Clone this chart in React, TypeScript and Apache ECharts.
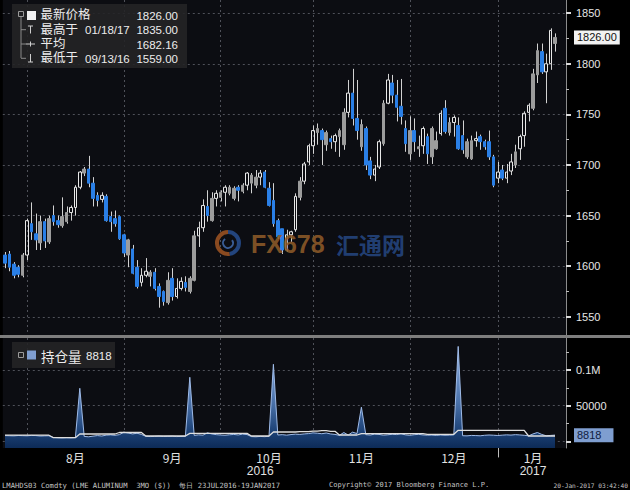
import React, { useEffect, useRef } from 'react';
import * as echarts from 'echarts';

// ---------- calendar ----------
const startDate = '2016-07-25';
const endDate = '2017-01-19';
const holidays = ['2016-08-29', '2016-12-26', '2016-12-27'];
const padCategories = ['pad1', 'pad2'];

// ---------- price candles [open, close, low, high] by month ----------
const ohlcJul = [
  [1611, 1603, 1598, 1614], [1612, 1599, 1595, 1615], [1602, 1591, 1588, 1604], [1599, 1592, 1589, 1601],
  [1591, 1611, 1589, 1613],
];
const ohlcAug = [
  [1611, 1645, 1606, 1647], [1642, 1634, 1626, 1663], [1632, 1626, 1616, 1652], [1623, 1644, 1616, 1650],
  [1644, 1625, 1618, 1647], [1624, 1647, 1622, 1650], [1650, 1644, 1640, 1660], [1645, 1641, 1638, 1650],
  [1640, 1649, 1638, 1668], [1644, 1653, 1642, 1659], [1653, 1658, 1645, 1660], [1658, 1678, 1650, 1680],
  [1678, 1693, 1676, 1694], [1692, 1696, 1689, 1698], [1696, 1682, 1678, 1709], [1682, 1667, 1659, 1688],
  [1670, 1665, 1659, 1673], [1666, 1670, 1663, 1673], [1669, 1645, 1644, 1671], [1649, 1644, 1634, 1654],
  [1647, 1642, 1639, 1655], [1649, 1627, 1626, 1650],
];
const ohlcSep = [
  [1631, 1613, 1609, 1632], [1611, 1626, 1599, 1627], [1617, 1593, 1592, 1621], [1599, 1580, 1578, 1606],
  [1584, 1591, 1580, 1598], [1591, 1595, 1589, 1608], [1590, 1594, 1580, 1596], [1594, 1578, 1576, 1598],
  [1580, 1570, 1559, 1583], [1575, 1565, 1561, 1576], [1564, 1586, 1562, 1594], [1588, 1570, 1566, 1598],
  [1570, 1578, 1568, 1588], [1578, 1585, 1576, 1589], [1584, 1579, 1575, 1590], [1575, 1588, 1573, 1590],
  [1586, 1630, 1585, 1635], [1630, 1638, 1619, 1644], [1638, 1660, 1634, 1666], [1659, 1650, 1644, 1675],
  [1645, 1667, 1644, 1673], [1667, 1672, 1659, 1675],
];
const ohlcOct = [
  [1668, 1673, 1664, 1675], [1673, 1678, 1659, 1680], [1672, 1678, 1670, 1680], [1667, 1677, 1665, 1679],
  [1678, 1675, 1664, 1680], [1674, 1680, 1672, 1682], [1680, 1692, 1675, 1693], [1682, 1690, 1672, 1692],
  [1680, 1688, 1677, 1695], [1688, 1692, 1680, 1695], [1693, 1678, 1677, 1695], [1677, 1660, 1659, 1683],
  [1665, 1642, 1639, 1682], [1645, 1629, 1627, 1647], [1637, 1616, 1612, 1637], [1616, 1631, 1614, 1636],
  [1631, 1634, 1624, 1635], [1636, 1669, 1634, 1672], [1668, 1684, 1665, 1688], [1684, 1701, 1681, 1703],
  [1703, 1719, 1700, 1721],
];
const ohlcNov = [
  [1719, 1734, 1711, 1739], [1732, 1736, 1720, 1741], [1734, 1725, 1700, 1736], [1720, 1732, 1714, 1734],
  [1726, 1723, 1716, 1729], [1723, 1729, 1713, 1731], [1728, 1734, 1708, 1736], [1720, 1752, 1715, 1756],
  [1752, 1771, 1747, 1784], [1771, 1746, 1739, 1795], [1746, 1734, 1725, 1784], [1718, 1740, 1714, 1745],
  [1736, 1700, 1695, 1738], [1704, 1690, 1686, 1708], [1690, 1696, 1684, 1700], [1698, 1723, 1696, 1725],
  [1721, 1761, 1719, 1764], [1761, 1784, 1760, 1790], [1781, 1769, 1761, 1789], [1769, 1757, 1743, 1784],
  [1758, 1748, 1740, 1785], [1736, 1721, 1713, 1744],
];
const ohlcDec = [
  [1711, 1734, 1705, 1748], [1734, 1723, 1713, 1746], [1716, 1718, 1708, 1729], [1719, 1736, 1711, 1738],
  [1728, 1711, 1701, 1731], [1708, 1736, 1701, 1738], [1716, 1724, 1715, 1733], [1731, 1751, 1729, 1754],
  [1756, 1733, 1731, 1764], [1732, 1742, 1729, 1747], [1742, 1747, 1728, 1749], [1739, 1716, 1715, 1747],
  [1729, 1715, 1711, 1744], [1708, 1723, 1706, 1726], [1706, 1724, 1705, 1729], [1724, 1726, 1718, 1733],
  [1728, 1723, 1715, 1730], [1723, 1718, 1715, 1725], [1723, 1708, 1705, 1734], [1708, 1680, 1678, 1710],
];
const ohlcJan = [
  [1687, 1693, 1682, 1703], [1695, 1687, 1685, 1700], [1687, 1693, 1682, 1701], [1694, 1703, 1690, 1711],
  [1700, 1713, 1697, 1720], [1716, 1728, 1705, 1730], [1729, 1751, 1718, 1753], [1752, 1759, 1743, 1761],
  [1756, 1790, 1754, 1795], [1789, 1813, 1781, 1820], [1812, 1792, 1790, 1820], [1792, 1800, 1761, 1810],
  [1800, 1833, 1794, 1835], [1820, 1826, 1812, 1830],
];

// ---------- open interest (blue area) and white line ----------
const openInterest = [
  8200, 8000, 7800, 8300, 8100, 7900, 8400, 8200, 7600, 7800, 8000,
  5600, 5200, 5000, 5300, 5100, 5400,
  74400,
  7000, 6500, 7400, 8200, 7600, 8800, 9200, 8600,
  9500, 13000, 11800, 10500, 11500, 9800,
  7200, 6800, 7000, 7400, 6900, 7100, 7300, 6800, 7000, 7200,
  89800,
  8500, 9200, 8800, 12000, 10500, 9500, 9000, 8700, 9300, 9800, 9100, 10200, 9600,
  6800, 6500, 7000, 6700, 7200,
  108000,
  9000, 9500, 8800, 9600, 10200, 9800, 10500, 11000, 12000, 11500, 10800, 11800, 10500, 9800,
  8500, 12500, 9000, 13000, 11000,
  48000,
  9500, 9000, 10200, 9800, 8800, 9300, 10000, 9600, 10800, 9200, 8600, 9400, 9900, 9100, 8700, 8900, 8400, 9000, 8600, 8800, 9200,
  133000,
  8000, 7800, 8400, 8200, 7900, 8600, 9000, 8700, 8300, 8800, 9200, 8900, 9500, 9100, 8600,
  7800, 10500, 12500, 9800, 7900, 8400, 8818,
];
const whiteLine = [
  8800, 8800, 8900, 8900, 8900, 8800, 8800, 8800, 8800, 8700, 8700,
  5200, 5200, 5200, 5200, 5200, 5200,
  10400, 10400, 10400, 10400, 10400, 10400, 10400, 10400, 10400,
  12500, 12500, 12500, 12500, 12500, 12500,
  7600, 7600, 7600, 7600, 7600, 7600, 7600, 7600, 7600, 7600,
  11300, 11300, 11300, 11300, 11300, 11300, 11300, 11300, 11300, 11300, 11300, 11300, 11300, 11300,
  7600, 7600, 7600, 7600, 7600,
  13200, 13200, 13200, 13200, 13200, 13200, 13800, 13800, 13800, 14500, 14500, 15000, 15000, 14200, 14200,
  9000, 9000, 9000, 9000, 9000,
  11000, 11000, 11000, 11000, 11000, 11000, 11000, 11000, 11000, 11000, 11000, 11000, 11000, 11000, 11000,
  10000, 10000, 10000, 10000, 10000, 10000, 10000,
  15500, 15500, 15500, 15500, 15500, 15500, 15500, 15500, 15500, 15500, 15500, 15500, 15500, 15500, 15500, 15500,
  7600, 7600, 7600, 7600, 7600, 7600, 7600,
];

// ---------- labels / ticks ----------
const monthLabels = ['8月', '9月', '10月', '11月', '12月', '1月'];
const yearLabels = ['2016', '2017'];
const priceTicks = [1550, 1600, 1650, 1700, 1750, 1800, 1850];
const priceMinorTicks = [1575, 1625, 1675, 1725, 1775, 1825];
const oiTicks = [0, 50000, 100000];
const oiLabelTicks = [50000, 100000];
const oiMinorTicks = [25000, 75000, 125000];
const legendRows = [
  { name: '最新价格', date: '', value: '1826.00' },
  { name: '最高于', date: '01/18/17', value: '1835.00' },
  { name: '平均', date: '', value: '1682.16' },
  { name: '最低于', date: '09/13/16', value: '1559.00' },
];
const oiLegend = { name: '持仓量', value: '8818' };
const footerLeft = 'LMAHDS03 Comdty (LME ALUMINUM  3MO ($))  每日 23JUL2016-19JAN2017';
const footerMid = 'Copyright© 2017 Bloomberg Finance L.P.';
const footerRight = '20-Jan-2017 03:42:40';
const watermark = { brand: 'FX678', cn: '汇通网' };

// ---------- derived ----------
function buildTradingDays(): string[] {
  const out: string[] = [];
  const d = new Date(startDate + 'T00:00:00Z');
  const end = new Date(endDate + 'T00:00:00Z');
  while (d.getTime() <= end.getTime()) {
    const wd = d.getUTCDay();
    const s = d.toISOString().slice(0, 10);
    if (wd !== 0 && wd !== 6 && holidays.indexOf(s) < 0) out.push(s);
    d.setUTCDate(d.getUTCDate() + 1);
  }
  return out;
}
const days = buildTradingDays();
const categories = days.concat(padCategories);
const ohlc = [...ohlcJul, ...ohlcAug, ...ohlcSep, ...ohlcOct, ...ohlcNov, ...ohlcDec, ...ohlcJan];

const monthStarts: number[] = [];
for (let i = 1; i < days.length; i++) {
  if (days[i].slice(0, 7) !== days[i - 1].slice(0, 7)) monthStarts.push(i);
}
const monthLabelAt = new Map<number, string>();
monthStarts.forEach((s, k) => {
  const e = k + 1 < monthStarts.length ? monthStarts[k + 1] - 1 : categories.length - 1;
  monthLabelAt.set(Math.ceil((s + e) / 2 + 0.5), monthLabels[k]);
});
const yearStart = days.findIndex((d) => d.startsWith('2017'));
const yearLabelAt = new Map<number, string>();
{
  const lastStart = monthStarts[monthStarts.length - 1];
  yearLabelAt.set(Math.round((monthStarts[0] + yearStart - 1) / 2), yearLabels[0]);
  yearLabelAt.set(Math.ceil((lastStart + categories.length - 1) / 2 + 0.5), yearLabels[1]);
}

const WHITE = '#e8e8e8';
const GREY = '#9c9c9c';
const BLUE = '#2a7fe6';
const WICK = '#d2d2d2';

function kind(i: number): 'down' | 'grey' | 'up' {
  const [o, c] = ohlc[i];
  if (c < o) return 'down';
  const prev = i > 0 ? ohlc[i - 1][1] : o;
  return o < prev ? 'grey' : 'up';
}

const bodyData = ohlc.map((r, i) => {
  const [o, c] = r;
  const k = kind(i);
  const itemStyle =
    k === 'down'
      ? { color0: BLUE, borderColor0: BLUE }
      : k === 'grey'
      ? { color: GREY, borderColor: GREY }
      : { color: 'rgba(0,0,0,0)', borderColor: WHITE };
  return { value: [o, c, Math.min(o, c), Math.max(o, c)], itemStyle };
});
const wickData = ohlc.map((r, i) => [i, r[0], r[1], r[2], r[3]]);
const lastClose = ohlc[ohlc.length - 1][1];
const lastOI = openInterest[openInterest.length - 1];

const FONT = "'Liberation Sans', Arial, sans-serif";
const CJK = "'Noto Sans CJK SC', 'Liberation Sans', sans-serif";
const LEG = "'Liberation Sans', 'Noto Sans CJK SC', sans-serif";
const MONO = "'DejaVu Sans Mono', monospace";
const GRID_LINE = { color: '#4f5159', type: [2, 3] as number[], width: 1 };

function buildGraphic() {
  const els: any[] = [];
  // separator
  els.push({ type: 'rect', shape: { x: 0, y: 335, width: 630, height: 3 }, style: { fill: '#7e7e7e' }, z: 50 });
  // watermark
  els.push({ type: 'arc', shape: { cx: 228, cy: 243, r: 11, startAngle: Math.PI * 0.45, endAngle: Math.PI * 1.5 }, style: { stroke: '#8a4a20', lineWidth: 4, fill: null }, z: 4 });
  els.push({ type: 'arc', shape: { cx: 228, cy: 243, r: 11, startAngle: -Math.PI * 0.5, endAngle: Math.PI * 0.45 }, style: { stroke: '#23457e', lineWidth: 4, fill: null }, z: 4 });
  els.push({ type: 'arc', shape: { cx: 228, cy: 243, r: 5, startAngle: -Math.PI * 0.2, endAngle: Math.PI * 1.3 }, style: { stroke: '#3a5d96', lineWidth: 2, fill: null }, z: 4 });
  els.push({ type: 'text', x: 251, y: 244, style: { text: watermark.brand, fill: '#8c5a28', font: "bold 25px 'Liberation Sans', sans-serif", textVerticalAlign: 'middle', opacity: 0.9 }, z: 4 });
  els.push({ type: 'text', x: 336, y: 244, style: { text: watermark.cn, fill: '#24457f', font: "bold 23px 'Noto Sans CJK SC', sans-serif", textVerticalAlign: 'middle', opacity: 0.9 }, z: 4 });

  // main legend box
  els.push({ type: 'rect', shape: { x: 12, y: 4, width: 175, height: 64 }, style: { fill: 'rgba(36,36,38,0.9)' }, z: 60 });
  els.push({ type: 'rect', shape: { x: 18.5, y: 11.5, width: 5, height: 5 }, style: { fill: 'none', stroke: '#9a9a9a', lineWidth: 1 }, z: 61 });
  els.push({ type: 'line', shape: { x1: 21, y1: 17, x2: 21, y2: 58 }, style: { stroke: '#8a8a8a', lineWidth: 1 }, z: 61 });
  const rowY = [15.4, 29.7, 44, 58.3];
  [1, 2, 3].forEach((r) => {
    els.push({ type: 'line', shape: { x1: 21, y1: rowY[r], x2: 26, y2: rowY[r] }, style: { stroke: '#8a8a8a', lineWidth: 1 }, z: 61 });
  });
  els.push({ type: 'rect', shape: { x: 27, y: 11, width: 9, height: 9 }, style: { fill: '#f2f2f2' }, z: 61 });
  // high icon (T)
  els.push({ type: 'line', shape: { x1: 28, y1: 26, x2: 33, y2: 26 }, style: { stroke: '#cfcfcf', lineWidth: 1 }, z: 61 });
  els.push({ type: 'line', shape: { x1: 30.5, y1: 26, x2: 30.5, y2: 33.5 }, style: { stroke: '#cfcfcf', lineWidth: 1 }, z: 61 });
  // average icon (-+-)
  els.push({ type: 'line', shape: { x1: 26, y1: 44, x2: 35, y2: 44 }, style: { stroke: '#cfcfcf', lineWidth: 1 }, z: 61 });
  els.push({ type: 'line', shape: { x1: 30.5, y1: 41.5, x2: 30.5, y2: 46.5 }, style: { stroke: '#cfcfcf', lineWidth: 1 }, z: 61 });
  // low icon (⊥)
  els.push({ type: 'line', shape: { x1: 30.5, y1: 54, x2: 30.5, y2: 62 }, style: { stroke: '#cfcfcf', lineWidth: 1 }, z: 61 });
  els.push({ type: 'line', shape: { x1: 28, y1: 62, x2: 33, y2: 62 }, style: { stroke: '#cfcfcf', lineWidth: 1 }, z: 61 });
  legendRows.forEach((row, r) => {
    els.push({ type: 'text', x: 40.5, y: rowY[r], style: { text: row.name, fill: '#ececec', font: `12.5px ${LEG}`, lineHeight: 12, textVerticalAlign: 'middle' }, z: 62 });
    if (row.date) {
      els.push({ type: 'text', x: 85, y: rowY[r] + 0.5, style: { text: row.date, fill: '#ececec', font: `11.5px ${FONT}`, lineHeight: 12, textVerticalAlign: 'middle' }, z: 62 });
    }
    els.push({ type: 'text', x: 178, y: rowY[r] + 0.5, style: { text: row.value, fill: '#ececec', font: `11.5px ${FONT}`, lineHeight: 12, textAlign: 'right', textVerticalAlign: 'middle' }, z: 62 });
  });

  // open interest legend
  els.push({ type: 'rect', shape: { x: 12, y: 342, width: 103, height: 26 }, style: { fill: 'rgba(36,36,38,0.9)' }, z: 60 });
  els.push({ type: 'rect', shape: { x: 18.5, y: 352.5, width: 5, height: 5 }, style: { fill: 'none', stroke: '#9a9a9a', lineWidth: 1 }, z: 61 });
  els.push({ type: 'rect', shape: { x: 27, y: 350.5, width: 9, height: 9 }, style: { fill: '#7f9ed0' }, z: 61 });
  els.push({ type: 'text', x: 41, y: 355.5, style: { text: oiLegend.name, fill: '#ececec', font: `13.5px ${CJK}`, lineHeight: 14, textVerticalAlign: 'middle' }, z: 62 });
  els.push({ type: 'text', x: 86, y: 356, style: { text: oiLegend.value, fill: '#ececec', font: `11.5px ${FONT}`, lineHeight: 12, textVerticalAlign: 'middle' }, z: 62 });

  // footer
  els.push({ type: 'text', x: 2, y: 485, style: { text: footerLeft, fill: '#c4c4c4', font: `7.2px ${MONO}`, textVerticalAlign: 'middle' }, z: 62 });
  els.push({ type: 'text', x: 329, y: 485, style: { text: footerMid, fill: '#c4c4c4', font: `7px ${MONO}`, textVerticalAlign: 'middle' }, z: 62 });
  els.push({ type: 'text', x: 628, y: 485, style: { text: footerRight, fill: '#c4c4c4', font: `6.2px ${MONO}`, textAlign: 'right', textVerticalAlign: 'middle' }, z: 62 });
  return els;
}

function buildOption(): any {
  const isMonthStart = (i: number) => monthStarts.indexOf(i) >= 0;
  const gridLeft = 2.8;
  const plotW = 4.4 * categories.length;
  return {
    animation: false,
    backgroundColor: '#000',
    grid: [
      { left: gridLeft, top: 0, width: plotW, height: 335, show: true, backgroundColor: '#0c0d12', borderWidth: 0 },
      { left: gridLeft, top: 338, width: plotW, height: 110, show: true, backgroundColor: '#0c0d12', borderWidth: 0 },
    ],
    xAxis: [
      {
        type: 'category', gridIndex: 0, data: categories, boundaryGap: true,
        axisLine: { show: false }, axisTick: { show: false }, axisLabel: { show: false },
        splitLine: { show: true, interval: (i: number) => isMonthStart(i), alignWithLabel: true, lineStyle: GRID_LINE },
      },
      {
        type: 'category', gridIndex: 1, data: categories, boundaryGap: true,
        axisLine: { show: false },
        axisTick: { show: true, interval: (i: number) => isMonthStart(i), alignWithLabel: true, length: 4, lineStyle: { color: '#9a9a9a' } },
        axisLabel: {
          show: true, interval: (i: number) => monthLabelAt.has(i),
          formatter: (_v: string, i: number) => monthLabelAt.get(i) || '',
          color: '#e2e2e2', fontSize: 12, fontFamily: CJK, margin: 3,
        },
        splitLine: { show: true, interval: (i: number) => isMonthStart(i), alignWithLabel: true, lineStyle: GRID_LINE },
      },
      {
        type: 'category', gridIndex: 1, data: categories, boundaryGap: true, position: 'bottom', offset: 15,
        axisLine: { show: false },
        axisTick: { show: true, interval: (i: number) => i === yearStart, alignWithLabel: true, length: 16, lineStyle: { color: '#bdbdbd' } },
        axisLabel: {
          show: true, interval: (i: number) => yearLabelAt.has(i),
          formatter: (_v: string, i: number) => yearLabelAt.get(i) || '',
          color: '#e2e2e2', fontSize: 12, fontFamily: FONT, margin: 2,
        },
        splitLine: { show: false },
      },
    ],
    yAxis: [
      {
        type: 'value', gridIndex: 0, position: 'right', min: 1532, max: 1863,
        axisLine: { show: true, lineStyle: { color: '#8c8c8c' } },
        axisTick: { show: true, customValues: priceTicks, length: 5, lineStyle: { color: '#dcdcdc', width: 2 } },
        axisLabel: { customValues: priceTicks, color: '#e6e6e6', fontSize: 11, fontFamily: FONT, margin: 10, formatter: (v: number) => String(v) },
        splitLine: { show: true, lineStyle: GRID_LINE },
      },
      {
        type: 'value', gridIndex: 0, position: 'right', min: 1532, max: 1863,
        axisLine: { show: false },
        axisTick: { show: true, customValues: priceMinorTicks, length: 3, lineStyle: { color: '#bdbdbd' } },
        axisLabel: { show: false }, splitLine: { show: false },
      },
      {
        type: 'value', gridIndex: 1, position: 'right', min: -9200, max: 144800,
        axisLine: { show: true, lineStyle: { color: '#8c8c8c' } },
        axisTick: { show: true, customValues: oiTicks, length: 5, lineStyle: { color: '#dcdcdc', width: 2 } },
        axisLabel: {
          customValues: oiLabelTicks, color: '#e6e6e6', fontSize: 11, fontFamily: FONT, margin: 10,
          formatter: (v: number) => (v >= 100000 ? `${v / 1000000}M` : String(v)),
        },
        splitLine: { show: true, lineStyle: GRID_LINE },
      },
      {
        type: 'value', gridIndex: 1, position: 'right', min: -9200, max: 144800,
        axisLine: { show: false },
        axisTick: { show: true, customValues: oiMinorTicks, length: 3, lineStyle: { color: '#bdbdbd' } },
        axisLabel: { show: false }, splitLine: { show: false },
      },
    ],
    series: [
      {
        type: 'custom', name: 'wick', xAxisIndex: 0, yAxisIndex: 0, data: wickData, silent: true, z: 2,
        encode: { x: 0, y: [1, 2, 3, 4] },
        renderItem: (_p: any, api: any) => {
          const i = api.value(0);
          const o = api.value(1), c = api.value(2), l = api.value(3), h = api.value(4);
          const top = Math.max(o, c), bot = Math.min(o, c);
          const pH = api.coord([i, h]);
          const pT = api.coord([i, top]);
          const pB = api.coord([i, bot]);
          const pL = api.coord([i, l]);
          const x = Math.round(pH[0]) + 0.5;
          return {
            type: 'group',
            children: [
              { type: 'line', shape: { x1: x, y1: pH[1], x2: x, y2: pT[1] }, style: { stroke: WICK, lineWidth: 1 } },
              { type: 'line', shape: { x1: x, y1: pB[1], x2: x, y2: pL[1] }, style: { stroke: WICK, lineWidth: 1 } },
            ],
          };
        },
      },
      {
        type: 'candlestick', name: '最新价格', xAxisIndex: 0, yAxisIndex: 0, data: bodyData, barWidth: 3, z: 3,
        itemStyle: { color: 'rgba(0,0,0,0)', color0: BLUE, borderColor: WHITE, borderColor0: BLUE, borderWidth: 1 },
        markLine: {
          silent: true, symbol: ['none', 'none'],
          lineStyle: { color: 'rgba(0,0,0,0)', width: 0 },
          label: {
            show: true, position: 'end', distance: 8, formatter: () => lastClose.toFixed(2),
            backgroundColor: '#f2f2f2', color: '#111', fontSize: 11, fontFamily: FONT, padding: [2, 3, 1, 3],
          },
          data: [{ yAxis: lastClose }],
        },
      },
      {
        type: 'line', name: '持仓量', xAxisIndex: 1, yAxisIndex: 2, data: openInterest, showSymbol: false, z: 2,
        lineStyle: { color: '#9fbbe8', width: 1 },
        areaStyle: {
          origin: 'start', opacity: 1,
          color: new echarts.graphic.LinearGradient(0, 0, 0, 1, [
            { offset: 0, color: '#8fb0e2' },
            { offset: 0.55, color: '#4b72aa' },
            { offset: 0.84, color: '#1c4176' },
            { offset: 1, color: '#0d2b57' },
          ]),
        },
        markLine: {
          silent: true, symbol: ['none', 'none'],
          lineStyle: { color: 'rgba(0,0,0,0)', width: 0 },
          label: {
            show: true, position: 'end', distance: 8, formatter: () => String(lastOI),
            backgroundColor: '#7f9ed0', color: '#0f2040', fontSize: 11, fontFamily: FONT, padding: [2, 12, 1, 3],
          },
          data: [{ yAxis: lastOI }],
        },
      },
      {
        type: 'line', name: 'line', xAxisIndex: 1, yAxisIndex: 2, data: whiteLine, showSymbol: false, z: 3,
        lineStyle: { color: '#dedede', width: 1.3 },
      },
    ],
    graphic: buildGraphic(),
  };
}

export default function App() {
  const ref = useRef<HTMLDivElement>(null);
  useEffect(() => {
    if (!ref.current) return;
    const chart = echarts.init(ref.current, undefined, { renderer: 'svg' });
    chart.setOption(buildOption());
    return () => chart.dispose();
  }, []);
  return (
    <div
      ref={ref}
      style={{ position: 'fixed', left: 0, top: 0, width: 630, height: 490, background: '#000' }}
    />
  );
}
